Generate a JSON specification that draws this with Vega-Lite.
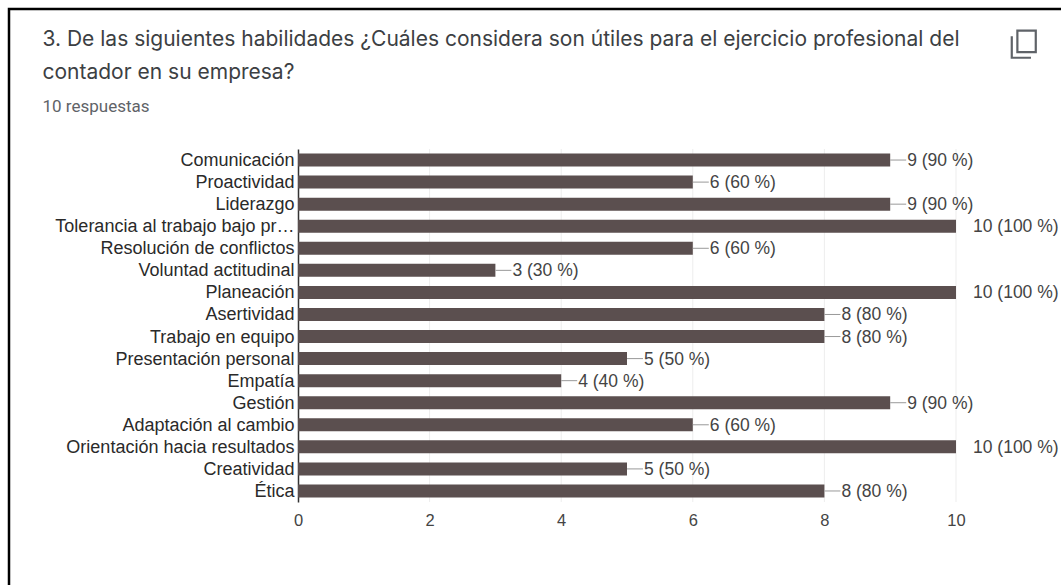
{
"$schema":"https://vega.github.io/schema/vega-lite/v6.json",
"width":1055,"height":579,
"autosize":{"type":"none"},
"padding":{"left":9,"top":9,"right":-3,"bottom":-3},
"background":"white",
"config":{"view":{"stroke":"black","strokeWidth":2.5,"fill":"white"}},
"title":{"text":["3. De las siguientes habilidades ¿Cuáles considera son útiles para el ejercicio profesional del","contador en su empresa?"],"subtitle":"10 respuestas","anchor":"start","frame":"group","orient":"top","dx":33.5,"dy":106,"offset":0,"font":"Inter","fontSize":21,"fontWeight":"normal","color":"#3c4043","lineHeight":33,"subtitleFont":"Roboto","subtitleFontSize":17,"subtitleColor":"#5f6368","subtitlePadding":16},
"data":{"values":[
{"habilidad":"Comunicación","respuestas":9,"etiqueta":"9 (90 %)"},
{"habilidad":"Proactividad","respuestas":6,"etiqueta":"6 (60 %)"},
{"habilidad":"Liderazgo","respuestas":9,"etiqueta":"9 (90 %)"},
{"habilidad":"Tolerancia al trabajo bajo pr…","respuestas":10,"etiqueta":"10 (100 %)"},
{"habilidad":"Resolución de conflictos","respuestas":6,"etiqueta":"6 (60 %)"},
{"habilidad":"Voluntad actitudinal","respuestas":3,"etiqueta":"3 (30 %)"},
{"habilidad":"Planeación","respuestas":10,"etiqueta":"10 (100 %)"},
{"habilidad":"Asertividad","respuestas":8,"etiqueta":"8 (80 %)"},
{"habilidad":"Trabajo en equipo","respuestas":8,"etiqueta":"8 (80 %)"},
{"habilidad":"Presentación personal","respuestas":5,"etiqueta":"5 (50 %)"},
{"habilidad":"Empatía","respuestas":4,"etiqueta":"4 (40 %)"},
{"habilidad":"Gestión","respuestas":9,"etiqueta":"9 (90 %)"},
{"habilidad":"Adaptación al cambio","respuestas":6,"etiqueta":"6 (60 %)"},
{"habilidad":"Orientación hacia resultados","respuestas":10,"etiqueta":"10 (100 %)"},
{"habilidad":"Creatividad","respuestas":5,"etiqueta":"5 (50 %)"},
{"habilidad":"Ética","respuestas":8,"etiqueta":"8 (80 %)"}
]},
"resolve":{"scale":{"y":"independent"},"axis":{"y":"independent"}},
"layer":[
{"data":{"values":[{"v":2},{"v":4},{"v":6},{"v":8},{"v":10}]},
 "mark":{"type":"rule","color":"#ededed","strokeWidth":1},
 "encoding":{
  "x":{"field":"v","type":"quantitative","scale":{"domain":[0,10],"range":[289,947]},"axis":{"orient":"bottom","offset":-86,"title":null,"values":[0,2,4,6,8,10],"format":"d","labelFlush":false,"grid":false,"domain":false,"ticks":false,"labelPadding":10,"labelFont":"Liberation Sans","labelFontSize":16.5,"labelColor":"#444444"}},
  "y":{"datum":0,"type":"quantitative","scale":{"domain":[0,1],"range":[493,140]},"axis":null},
  "y2":{"datum":1}
 }},
{"mark":{"type":"bar","color":"#5b4f4f"},
 "encoding":{
  "x":{"field":"respuestas","type":"quantitative","scale":{"domain":[0,10],"range":[289,947]}},
  "y":{"field":"habilidad","type":"nominal","sort":null,"scale":{"range":[140,493],"paddingInner":0.41,"paddingOuter":0.205},"axis":{"title":null,"offset":-289,"ticks":false,"grid":false,"labelPadding":4,"labelOffset":1,"labelLimit":300,"labelFont":"Liberation Sans","labelFontSize":18,"labelColor":"#2a2a2a","domainColor":"#333333","domainWidth":1.5}}
 }},
{"mark":{"type":"rule","color":"#999999","strokeWidth":1,"x2Offset":16},
 "transform":[{"filter":"datum.respuestas < 10"}],
 "encoding":{
  "x":{"field":"respuestas","type":"quantitative","scale":{"domain":[0,10],"range":[289,947]}},
  "x2":{"field":"respuestas"},
  "y":{"field":"habilidad","type":"nominal","sort":null,"scale":{"domain":["Comunicación","Proactividad","Liderazgo","Tolerancia al trabajo bajo pr…","Resolución de conflictos","Voluntad actitudinal","Planeación","Asertividad","Trabajo en equipo","Presentación personal","Empatía","Gestión","Adaptación al cambio","Orientación hacia resultados","Creatividad","Ética"],"range":[140,493],"paddingInner":0.41,"paddingOuter":0.205},"axis":null}
 }},
{"mark":{"type":"text","align":"left","dx":17,"dy":1,"font":"Liberation Sans","fontSize":17.5,"color":"#444444"},
 "encoding":{
  "x":{"field":"respuestas","type":"quantitative","scale":{"domain":[0,10],"range":[289,947]}},
  "y":{"field":"habilidad","type":"nominal","sort":null,"scale":{"range":[140,493],"paddingInner":0.41,"paddingOuter":0.205},"axis":null},
  "text":{"field":"etiqueta"}
 }},
{"data":{"values":[{"icono":"copiar"}]},
 "mark":{"type":"point","filled":false,"stroke":"#5f6368","strokeWidth":2.2,"size":1024,"opacity":1,"shape":"M-0.4 -0.85 H0.75 V0.5 H-0.4 Z M-0.75 -0.5 V0.85 H0.45"},
 "encoding":{
  "x":{"datum":11.03,"type":"quantitative","scale":{"domain":[0,10],"range":[289,947]}},
  "y":{"datum":1.297,"type":"quantitative","scale":{"domain":[0,1],"range":[493,140]},"axis":null}
 }}
]
}
